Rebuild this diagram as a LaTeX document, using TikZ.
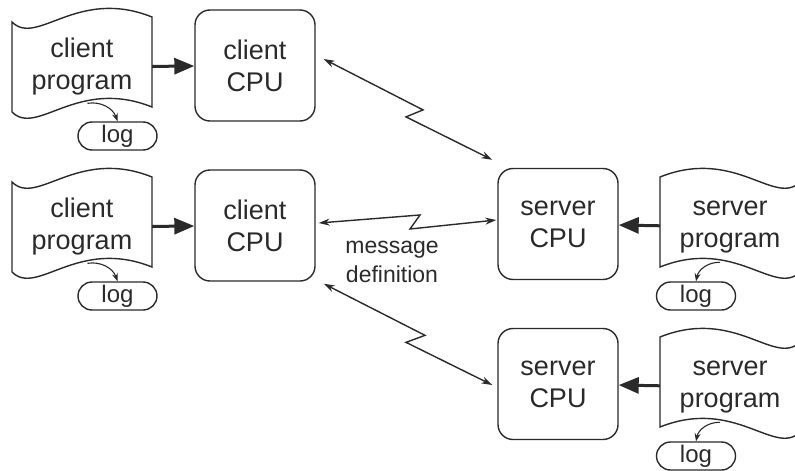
\documentclass[tikz,border=0pt]{standalone}
\usepackage{fontspec}
\setmainfont{Liberation Sans}
\usepackage{tikz}
\usetikzlibrary{calc,positioning,arrows.meta,shapes.misc}
\definecolor{figInk}{HTML}{2A2A2A}

% punched-tape outline around a program node (#2 = 1 or -1 to mirror)
\newcommand\tapeoutline[2]{%
  \draw[tapeline, shift={(#1.center)}, xscale=#2]
    (-70,-45) .. controls (-45,-20) and (-5,-80) .. (70,-50) -- (70,40)
    .. controls (-5,10) and (-45,70) .. (-70,45) -- cycle;}

\begin{document}
\begin{tikzpicture}[x=1pt, y=-1pt,
  progtape/.style={minimum width=140pt, minimum height=90pt, align=center,
    inner sep=0pt, text=figInk, font=\fontsize{27}{32}\selectfont},
  tapeline/.style={draw=figInk, line width=1.4pt},
  cpubox/.style={draw=figInk, rounded corners=15pt, line width=1.4pt,
    minimum width=120pt, minimum height=111pt, align=center, inner sep=0pt,
    text=figInk, font=\fontsize{27}{32}\selectfont},
  logpill/.style={rounded rectangle, draw=figInk, line width=1.4pt,
    minimum width=79pt, minimum height=28pt, inner sep=0pt, text=figInk,
    font=\fontsize{24}{28}\selectfont},
  label/.style={align=center, font=\fontsize{23}{29}\selectfont, text=figInk},
  feed/.style={-{Triangle[length=20pt,width=16pt]}, line width=3pt, figInk},
  msg/.style={{Stealth[length=11pt,width=7pt]}-{Stealth[length=11pt,width=7pt]},
    line width=1.4pt, figInk},
  logarr/.style={-{Stealth[length=8pt,width=6pt]}, line width=1.1pt, figInk},
]
\clip (0,0) rectangle (795,471);

% === clients ===
\foreach \r/\y in {1/0, 2/160} {
  \node[progtape] (cprog\r) at (82, 67+\y) {client\\program};
  \tapeoutline{cprog\r}{1}
  \node[cpubox] (ccpu\r) at (255, 65.5+\y) {client\\CPU};
  \node[logpill] (clog\r) at (117.5, 136+\y) {log};
  \draw[feed] (cprog\r) -- (ccpu\r);
  \draw[logarr] ($(clog\r.north)+(-30,-18)$) to[bend left=40] (clog\r.north);
}

% === servers ===
\foreach \r/\y in {1/0, 2/160} {
  \node[progtape] (sprog\r) at (730, 227+\y) {server\\program};
  \tapeoutline{sprog\r}{-1}
  \node[cpubox] (scpu\r) at (558, 224+\y) {server\\CPU};
  \node[logpill] (slog\r) at (696, 296+\y) {log};
  \draw[feed] (sprog\r) -- (scpu\r);
  \draw[logarr] ($(slog\r.north)+(24,-19)$) to[bend right=40] (slog\r.north);
}

% === messages ===
\coordinate (m1s) at ($(ccpu1.east)+(8,-6.5)$);
\coordinate (m1e) at ($(scpu1.north west)+(-5,-8)$);
\draw[msg] (m1s) -- ($(m1s)!.5!(m1e)+(15,0.5)$) -- ($(m1s)!.5!(m1e)+(-2,7.5)$) -- (m1e);

\coordinate (m2s) at ($(ccpu2.east)+(3,-2.5)$);
\coordinate (m2e) at ($(scpu1.west)+(-1,-4)$);
\draw[msg] (m2s) -- ($(m2s)!.5!(m2e)+(12.5,-6.5)$) -- ($(m2s)!.5!(m2e)+(2.5,7.5)$) -- (m2e);

\coordinate (m3s) at ($(ccpu2.south east)+(8,2)$);
\coordinate (m3e) at ($(scpu2.west)+(-5,1)$);
\draw[msg] (m3s) -- ($(m3s)!.5!(m3e)+(17,1)$) -- ($(m3s)!.5!(m3e)+(-2,8)$) -- (m3e);

\node[label] (msgdef) at (392, 262) {message\\definition};

\end{tikzpicture}
\end{document}
